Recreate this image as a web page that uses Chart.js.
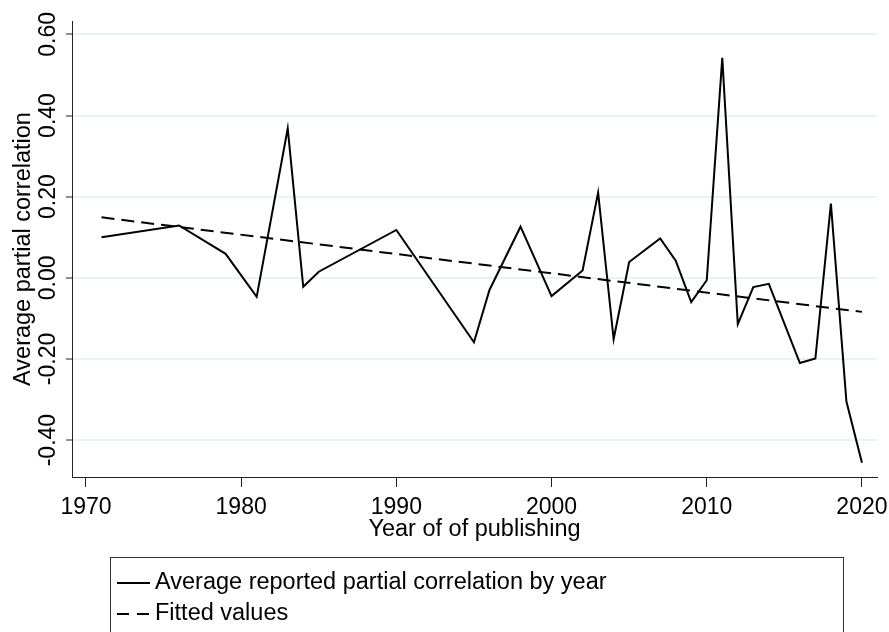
<!DOCTYPE html>
<html>
<head>
<meta charset="utf-8">
<script src="https://cdn.jsdelivr.net/npm/chart.js@4"></script>
<style>
  body { margin: 0; background: #fff; }
</style>
</head>
<body>
<canvas id="pcorChart" width="889" height="632"></canvas>
<script>
// data
const years = [1971, 1976, 1979, 1981, 1983, 1984, 1985, 1990, 1995, 1996,
  1998, 2000, 2002, 2003, 2004, 2005, 2007, 2008, 2009, 2010,
  2011, 2012, 2013, 2014, 2016, 2017, 2018, 2019, 2020];
const avgCorr = [0.100, 0.129, 0.059, -0.047, 0.368, -0.022, 0.015, 0.118, -0.159, -0.030,
  0.126, -0.045, 0.018, 0.210, -0.151, 0.039, 0.097, 0.042, -0.060, -0.006,
  0.542, -0.114, -0.023, -0.015, -0.210, -0.199, 0.183, -0.305, -0.456];
const fitYears = [1971, 2020];
const fitValues = [0.149, -0.084];
const xTicks = [1970, 1980, 1990, 2000, 2010, 2020];
const yTicks = [-0.4, -0.2, 0, 0.2, 0.4, 0.6];
const xTitle = "Year of of publishing";
const yTitle = "Average partial correlation";

const FONT = "'Liberation Sans', Arial, sans-serif";

// Stata-like extras: rotated y labels, axis titles and boxed legend
const stataExtras = {
  id: "stataExtras",
  afterDraw(chart) {
    const ctx = chart.ctx;
    const area = chart.chartArea;
    const yScale = chart.scales.y;
    ctx.save();
    ctx.fillStyle = "#000";
    ctx.font = "23px " + FONT;
    ctx.textAlign = "center";
    ctx.textBaseline = "alphabetic";

    yTicks.forEach((v) => {
      ctx.save();
      ctx.translate(55, yScale.getPixelForValue(v));
      ctx.rotate(-Math.PI / 2);
      ctx.fillText(v.toFixed(2), 0, 0);
      ctx.restore();
    });

    ctx.font = "23.5px " + FONT;
    ctx.save();
    ctx.translate(30, (area.top + area.bottom) / 2);
    ctx.rotate(-Math.PI / 2);
    ctx.fillText(yTitle, 0, 0);
    ctx.restore();

    ctx.fillText(xTitle, (area.left + area.right) / 2, 536);

    // legend box
    ctx.strokeStyle = "#333";
    ctx.lineWidth = 1;
    ctx.strokeRect(110.5, 557.5, 733, 120);
    ctx.textAlign = "left";
    chart.data.datasets.forEach((ds, i) => {
      const rowY = 583 + i * 31;
      ctx.beginPath();
      ctx.strokeStyle = "#000";
      ctx.lineWidth = 2;
      ctx.setLineDash(ds.borderDash ? [12, 8] : []);
      ctx.moveTo(117, rowY);
      ctx.lineTo(150, rowY);
      ctx.stroke();
      ctx.setLineDash([]);
      ctx.fillText(ds.label, 155, rowY + 6);
    });
    ctx.restore();
  },
};

const ctx = document.getElementById("pcorChart").getContext("2d");
new Chart(ctx, {
  type: "line",
  data: {
    datasets: [
      {
        label: "Average reported partial correlation by year",
        data: years.map((yr, i) => ({ x: yr, y: avgCorr[i] })),
        borderColor: "#000",
        borderWidth: 2,
        pointRadius: 0,
        tension: 0,
        fill: false,
      },
      {
        label: "Fitted values",
        data: fitYears.map((yr, i) => ({ x: yr, y: fitValues[i] })),
        borderColor: "#000",
        borderWidth: 2,
        borderDash: [13, 7],
        pointRadius: 0,
        fill: false,
      },
    ],
  },
  options: {
    responsive: false,
    animation: false,
    devicePixelRatio: 1,
    layout: { padding: { top: 21, right: 12, bottom: 87, left: 0 } },
    plugins: {
      legend: { display: false },
      tooltip: { enabled: false },
    },
    scales: {
      x: {
        type: "linear",
        min: 1969.1,
        max: 2020.97,
        afterBuildTicks: (s) => {
          s.ticks = xTicks.map((v) => ({ value: v }));
        },
        afterFit: (s) => {
          s.height = 68;
          s.paddingLeft = 0;
          s.paddingRight = 0;
        },
        grid: {
          drawOnChartArea: false,
          drawTicks: true,
          tickLength: 10,
          tickColor: "#222",
          tickWidth: 1,
        },
        border: { color: "#222", width: 1 },
        ticks: {
          color: "#000",
          font: { family: FONT, size: 23 },
          padding: 7,
          maxRotation: 0,
          autoSkip: false,
          callback: (v) => String(v),
        },
      },
      y: {
        type: "linear",
        min: -0.491,
        max: 0.633,
        afterBuildTicks: (s) => {
          s.ticks = yTicks.map((v) => ({ value: v }));
        },
        afterFit: (s) => {
          s.width = 72;
          s.paddingTop = 0;
          s.paddingBottom = 0;
        },
        grid: {
          color: "#eaf2f3",
          lineWidth: 2,
          drawTicks: true,
          tickLength: 6,
          tickColor: "#222",
          tickWidth: 1,
        },
        border: { color: "#222", width: 1 },
        ticks: { display: false },
      },
    },
  },
  plugins: [stataExtras],
});
</script>
</body>
</html>
